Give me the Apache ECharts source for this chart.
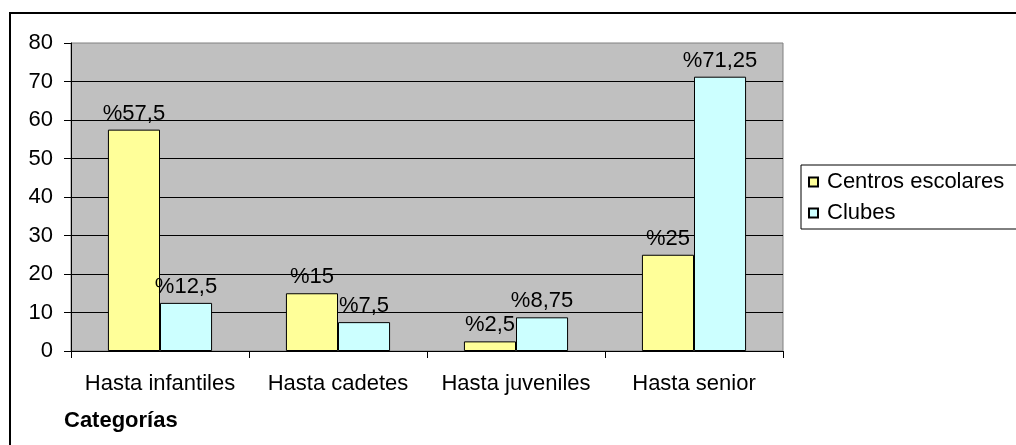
<!DOCTYPE html>
<html><head><meta charset="utf-8">
<script src="https://cdn.jsdelivr.net/npm/echarts@6/dist/echarts.min.js"></script>
<style>html,body{margin:0;padding:0;background:#fff}#c{width:1016px;height:445px}</style>
</head><body><div id="c"></div>
<script>
const categories = ['Hasta infantiles', 'Hasta cadetes', 'Hasta juveniles', 'Hasta senior'];
const centrosEscolares = [57.5, 15, 2.5, 25];
const clubes = [12.5, 7.5, 8.75, 71.25];
const seriesNames = ['Centros escolares', 'Clubes'];
const yTicks = [0, 10, 20, 30, 40, 50, 60, 70, 80];

const FONT = '"Liberation Sans", Arial, sans-serif';
const FS = 22;
const fmt = p => '%' + String(p.value).replace('.', ',');
const labelCfg = { show: true, position: 'top', distance: 5, formatter: fmt, color: '#000', fontFamily: FONT, fontSize: FS };

const chart = echarts.init(document.getElementById('c'), null, { renderer: 'canvas' });
chart.setOption({
  animation: false,
  backgroundColor: '#fff',
  textStyle: { fontFamily: FONT },
  grid: { left: 71, top: 43, right: 233, bottom: 94, show: true, backgroundColor: '#C0C0C0', borderColor: '#808080', borderWidth: 1 },
  graphic: [
    { type: 'rect', shape: { x: 10, y: 13, width: 1030, height: 460 }, style: { fill: 'none', stroke: '#000', lineWidth: 2 }, z: 100 },
    { type: 'text', left: 64, top: 410, style: { text: 'Categorías', fontFamily: FONT, fontSize: FS, fontWeight: 'bold', fill: '#000' } }
  ],
  legend: {
    orient: 'vertical', left: 801, top: 165,
    data: seriesNames,
    borderColor: '#000', borderWidth: 1, borderRadius: 0,
    padding: [6, 30, 5, 7],
    itemWidth: 9, itemHeight: 9, itemGap: 9,
    icon: 'rect',
    textStyle: { fontFamily: FONT, fontSize: FS, color: '#000', padding: [0, 0, 0, 4] }
  },
  xAxis: {
    type: 'category', data: categories,
    axisLine: { lineStyle: { color: '#000', width: 1 } },
    axisTick: { show: true, interval: 0, length: 7, lineStyle: { color: '#000' } },
    axisLabel: { interval: 0, margin: 22, color: '#000', fontFamily: FONT, fontSize: FS },
    splitLine: { show: false }
  },
  yAxis: {
    type: 'value', min: 0, max: 80, interval: 10,
    axisLine: { show: true, lineStyle: { color: '#000', width: 1 } },
    axisTick: { show: true, length: 7, lineStyle: { color: '#000' } },
    axisLabel: { margin: 18, color: '#000', fontFamily: FONT, fontSize: FS,
      formatter: v => yTicks.includes(v) ? String(v) : '' },
    splitLine: { show: true, showMaxLine: false, lineStyle: { color: '#000', width: 1 } }
  },
  series: [
    { name: seriesNames[0], type: 'bar', data: centrosEscolares, barGap: '0%', barCategoryGap: '41.5%',
      itemStyle: { color: '#FFFF99', borderColor: '#000', borderWidth: 1 }, label: labelCfg },
    { name: seriesNames[1], type: 'bar', data: clubes, barGap: '0%', barCategoryGap: '41.5%',
      itemStyle: { color: '#CCFFFF', borderColor: '#000', borderWidth: 1 }, label: labelCfg }
  ]
});
</script></body></html>
